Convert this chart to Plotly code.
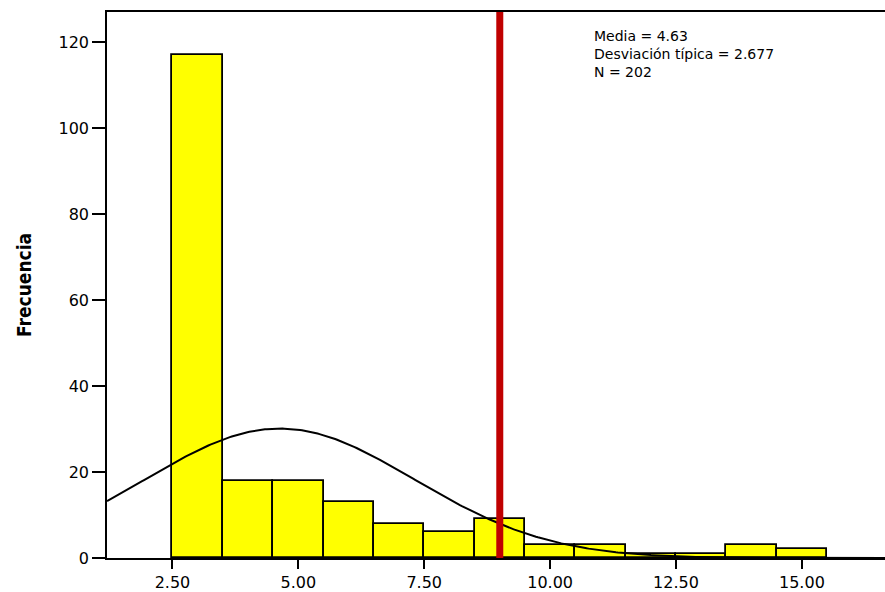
import numpy as np
import plotly.graph_objects as go

# Histogram data (bin centers, width 1)
bin_centers = [3, 4, 5, 6, 7, 8, 9, 10, 11, 12, 13, 14, 15]
frequencies = [117, 18, 18, 13, 8, 6, 9, 3, 3, 1, 1, 3, 2]
bin_width = 1.0

# Summary statistics shown on chart
MEAN = 4.63
SD = 2.677
N = 202
cutoff = 9.0

x_ticks = [2.5, 5.0, 7.5, 10.0, 12.5, 15.0]
y_ticks = [0, 20, 40, 60, 80, 100, 120]

x_range = [1.2, 16.65]
y_range = [0, 127]

stat_lines = [f"Media = {MEAN:.2f}", f"Desviación típica = {SD:.3f}", f"N = {N}"]

# Fitted normal curve from the displayed statistics
xc = np.linspace(x_range[0], x_range[1], 400)
yc = N * bin_width / (SD * np.sqrt(2 * np.pi)) * np.exp(-0.5 * ((xc - MEAN) / SD) ** 2)

W, H = 885, 592
ML, MR, MT, MB = 107, 0, 12, 30
plot_w = W - ML - MR

fig = go.Figure()
fig.add_trace(go.Bar(
    x=bin_centers, y=frequencies, width=[bin_width] * len(bin_centers),
    marker=dict(color="#FFFF00", line=dict(color="#000000", width=1.8)),
    showlegend=False, hoverinfo="skip",
))
fig.add_trace(go.Scatter(
    x=xc, y=yc, mode="lines", line=dict(color="#000000", width=2),
    showlegend=False, hoverinfo="skip",
))

fig.add_shape(type="line", x0=cutoff, x1=cutoff, y0=0, y1=y_range[1],
              xref="x", yref="y", line=dict(color="#C00000", width=7), layer="above")

fig.add_annotation(
    x=(593 - ML) / plot_w, y=117.2, xref="paper", yref="y",
    xanchor="left", yanchor="middle", borderpad=0,
    text="<br>".join(stat_lines), showarrow=False, align="left",
    font=dict(family="DejaVu Sans, sans-serif", size=14, color="#000000"),
)

fig.add_annotation(
    x=(24 - ML) / plot_w, y=0.5, xref="paper", yref="paper",
    xanchor="center", yanchor="middle", textangle=-90,
    text="<b>Frecuencia</b>", showarrow=False,
    font=dict(family="DejaVu Sans Condensed, Liberation Sans Narrow, sans-serif", size=19, color="#000000"),
)

fig.update_layout(
    width=W, height=H,
    margin=dict(l=ML, r=MR, t=MT, b=MB),
    paper_bgcolor="white", plot_bgcolor="white",
    bargap=0,
    font=dict(family="DejaVu Sans, sans-serif", size=16, color="#000000"),
    xaxis=dict(
        range=x_range, tickvals=x_ticks, ticktext=[f"{v:.2f}" for v in x_ticks],
        showgrid=False, zeroline=False, showline=True, linecolor="#000000", linewidth=1.6,
        mirror=True, ticks="outside", ticklen=9, tickwidth=1.6, tickcolor="#000000",
        tickfont=dict(size=16),
    ),
    yaxis=dict(
        range=y_range, tickvals=y_ticks,
        showgrid=False, zeroline=False, showline=True, linecolor="#000000", linewidth=1.6,
        ticks="outside", ticklen=13, tickwidth=1.6, tickcolor="#000000",
        tickfont=dict(size=16),
    ),
)

fig.write_html("out.html", config={"displayModeBar": False},
               post_script="document.body.style.margin='0';document.body.style.overflow='hidden';")
